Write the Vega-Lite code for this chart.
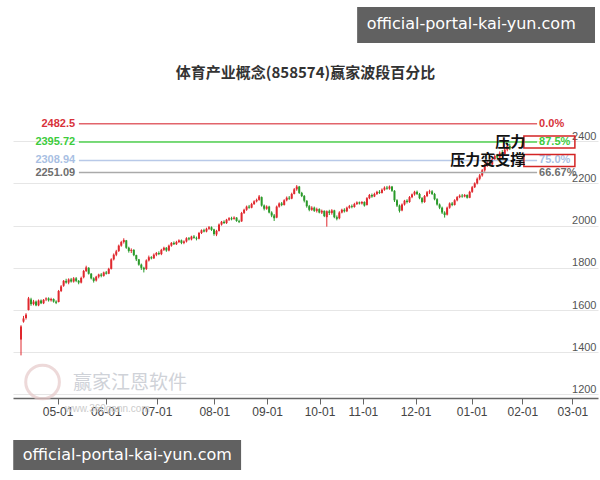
{
"$schema":"https://vega.github.io/schema/vega-lite/v6.json",
"width":585,"height":299,
"autosize":{"type":"none"},
"padding":{"left":13,"top":99,"right":2,"bottom":82},
"background":"white",
"config":{"view":{"stroke":null},"font":"Liberation Sans"},
"title":{"text":"体育产业概念(858574)赢家波段百分比","font":"Noto Sans CJK SC","fontSize":15,"fontWeight":"bold","color":"#333333","anchor":"middle","baseline":"bottom","offset":-89},
"datasets":{
"k":[
{"i":0,"o":1460,"c":1522,"h":1528,"l":1385},{"i":1,"o":1545,"c":1560,"h":1572,"l":1540},{"i":2,"o":1562,"c":1578,"h":1585,"l":1555},{"i":3,"o":1600,"c":1655,"h":1662,"l":1598},{"i":4,"o":1650,"c":1628,"h":1658,"l":1620},{"i":5,"o":1628,"c":1640,"h":1648,"l":1622},{"i":6,"o":1640,"c":1622,"h":1645,"l":1618},{"i":7,"o":1622,"c":1645,"h":1650,"l":1618},{"i":8,"o":1645,"c":1632,"h":1650,"l":1628},{"i":9,"o":1632,"c":1648,"h":1652,"l":1628},
{"i":10,"o":1650,"c":1655,"h":1660,"l":1642},{"i":11,"o":1655,"c":1646,"h":1660,"l":1640},{"i":12,"o":1646,"c":1652,"h":1658,"l":1640},{"i":13,"o":1652,"c":1640,"h":1655,"l":1635},{"i":14,"o":1640,"c":1634,"h":1646,"l":1628},{"i":15,"o":1638,"c":1690,"h":1695,"l":1636},{"i":16,"o":1690,"c":1712,"h":1718,"l":1685},{"i":17,"o":1715,"c":1738,"h":1742,"l":1710},{"i":18,"o":1738,"c":1730,"h":1748,"l":1725},{"i":19,"o":1730,"c":1745,"h":1750,"l":1722},
{"i":20,"o":1745,"c":1735,"h":1752,"l":1730},{"i":21,"o":1735,"c":1750,"h":1756,"l":1730},{"i":22,"o":1750,"c":1738,"h":1756,"l":1732},{"i":23,"o":1738,"c":1730,"h":1742,"l":1722},{"i":24,"o":1730,"c":1752,"h":1758,"l":1726},{"i":25,"o":1755,"c":1785,"h":1790,"l":1750},{"i":26,"o":1785,"c":1802,"h":1810,"l":1780},{"i":27,"o":1800,"c":1772,"h":1803,"l":1768},{"i":28,"o":1772,"c":1750,"h":1775,"l":1745},{"i":29,"o":1750,"c":1738,"h":1755,"l":1730},
{"i":30,"o":1740,"c":1758,"h":1762,"l":1735},{"i":31,"o":1758,"c":1768,"h":1772,"l":1750},{"i":32,"o":1768,"c":1762,"h":1775,"l":1755},{"i":33,"o":1762,"c":1778,"h":1782,"l":1758},{"i":34,"o":1778,"c":1772,"h":1785,"l":1768},{"i":35,"o":1772,"c":1795,"h":1800,"l":1770},{"i":36,"o":1795,"c":1840,"h":1845,"l":1792},{"i":37,"o":1840,"c":1862,"h":1868,"l":1835},{"i":38,"o":1862,"c":1878,"h":1885,"l":1855},{"i":39,"o":1880,"c":1905,"h":1910,"l":1875},
{"i":40,"o":1905,"c":1922,"h":1928,"l":1900},{"i":41,"o":1922,"c":1932,"h":1940,"l":1915},{"i":42,"o":1930,"c":1895,"h":1932,"l":1890},{"i":43,"o":1895,"c":1880,"h":1900,"l":1872},{"i":44,"o":1880,"c":1885,"h":1892,"l":1870},{"i":45,"o":1885,"c":1860,"h":1888,"l":1855},{"i":46,"o":1860,"c":1840,"h":1862,"l":1832},{"i":47,"o":1840,"c":1815,"h":1842,"l":1810},{"i":48,"o":1815,"c":1800,"h":1820,"l":1790},{"i":49,"o":1800,"c":1792,"h":1805,"l":1778},
{"i":50,"o":1795,"c":1835,"h":1840,"l":1790},{"i":51,"o":1835,"c":1850,"h":1858,"l":1830},{"i":52,"o":1850,"c":1845,"h":1855,"l":1840},{"i":53,"o":1845,"c":1862,"h":1868,"l":1842},{"i":54,"o":1862,"c":1870,"h":1875,"l":1855},{"i":55,"o":1870,"c":1865,"h":1878,"l":1860},{"i":56,"o":1865,"c":1885,"h":1890,"l":1860},{"i":57,"o":1885,"c":1895,"h":1900,"l":1880},{"i":58,"o":1895,"c":1882,"h":1898,"l":1876},{"i":59,"o":1882,"c":1905,"h":1910,"l":1878},
{"i":60,"o":1905,"c":1918,"h":1922,"l":1900},{"i":61,"o":1918,"c":1912,"h":1925,"l":1908},{"i":62,"o":1912,"c":1922,"h":1928,"l":1908},{"i":63,"o":1922,"c":1930,"h":1935,"l":1918},{"i":64,"o":1930,"c":1918,"h":1934,"l":1912},{"i":65,"o":1918,"c":1925,"h":1930,"l":1912},{"i":66,"o":1925,"c":1940,"h":1945,"l":1920},{"i":67,"o":1940,"c":1935,"h":1946,"l":1930},{"i":68,"o":1935,"c":1948,"h":1952,"l":1930},{"i":69,"o":1948,"c":1942,"h":1955,"l":1938},
{"i":70,"o":1942,"c":1938,"h":1948,"l":1930},{"i":71,"o":1938,"c":1965,"h":1970,"l":1935},{"i":72,"o":1965,"c":1978,"h":1982,"l":1960},{"i":73,"o":1978,"c":1972,"h":1985,"l":1968},{"i":74,"o":1972,"c":1985,"h":1990,"l":1968},{"i":75,"o":1985,"c":1992,"h":1998,"l":1980},{"i":76,"o":1992,"c":1980,"h":1996,"l":1975},{"i":77,"o":1982,"c":1960,"h":1985,"l":1952},{"i":78,"o":1958,"c":1975,"h":1980,"l":1950},{"i":79,"o":1975,"c":2005,"h":2010,"l":1972},
{"i":80,"o":2005,"c":2018,"h":2022,"l":2000},{"i":81,"o":2018,"c":2012,"h":2025,"l":2008},{"i":82,"o":2012,"c":2028,"h":2032,"l":2008},{"i":83,"o":2028,"c":2035,"h":2040,"l":2022},{"i":84,"o":2035,"c":2030,"h":2042,"l":2025},{"i":85,"o":2032,"c":2038,"h":2044,"l":2028},{"i":86,"o":2038,"c":2022,"h":2040,"l":2018},{"i":87,"o":2022,"c":2018,"h":2028,"l":2012},{"i":88,"o":2020,"c":2060,"h":2065,"l":2018},{"i":89,"o":2060,"c":2075,"h":2080,"l":2055},
{"i":90,"o":2075,"c":2090,"h":2095,"l":2070},{"i":91,"o":2090,"c":2085,"h":2098,"l":2080},{"i":92,"o":2085,"c":2102,"h":2108,"l":2082},{"i":93,"o":2102,"c":2115,"h":2120,"l":2098},{"i":94,"o":2115,"c":2122,"h":2128,"l":2110},{"i":95,"o":2122,"c":2138,"h":2145,"l":2118},{"i":96,"o":2135,"c":2095,"h":2138,"l":2090},{"i":97,"o":2095,"c":2080,"h":2100,"l":2072},{"i":98,"o":2080,"c":2090,"h":2096,"l":2075},{"i":99,"o":2090,"c":2062,"h":2094,"l":2058},
{"i":100,"o":2062,"c":2048,"h":2068,"l":2040},{"i":101,"o":2048,"c":2035,"h":2055,"l":2022},{"i":102,"o":2038,"c":2090,"h":2095,"l":2035},{"i":103,"o":2090,"c":2105,"h":2110,"l":2085},{"i":104,"o":2105,"c":2098,"h":2112,"l":2092},{"i":105,"o":2098,"c":2120,"h":2125,"l":2095},{"i":106,"o":2120,"c":2132,"h":2138,"l":2115},{"i":107,"o":2132,"c":2128,"h":2140,"l":2122},{"i":108,"o":2128,"c":2150,"h":2156,"l":2125},{"i":109,"o":2150,"c":2172,"h":2178,"l":2148},
{"i":110,"o":2172,"c":2185,"h":2192,"l":2165},{"i":111,"o":2185,"c":2155,"h":2188,"l":2150},{"i":112,"o":2155,"c":2140,"h":2160,"l":2135},{"i":113,"o":2140,"c":2118,"h":2145,"l":2110},{"i":114,"o":2118,"c":2092,"h":2120,"l":2085},{"i":115,"o":2092,"c":2075,"h":2098,"l":2068},{"i":116,"o":2075,"c":2085,"h":2092,"l":2070},{"i":117,"o":2085,"c":2070,"h":2090,"l":2065},{"i":118,"o":2070,"c":2078,"h":2085,"l":2062},{"i":119,"o":2078,"c":2062,"h":2082,"l":2058},
{"i":120,"o":2062,"c":2070,"h":2076,"l":2055},{"i":121,"o":2070,"c":2045,"h":2072,"l":2040},{"i":122,"o":2040,"c":2068,"h":2072,"l":1995},{"i":123,"o":2068,"c":2060,"h":2075,"l":2050},{"i":124,"o":2060,"c":2072,"h":2078,"l":2052},{"i":125,"o":2072,"c":2040,"h":2075,"l":2035},{"i":126,"o":2040,"c":2032,"h":2048,"l":2025},{"i":127,"o":2035,"c":2062,"h":2068,"l":2030},{"i":128,"o":2062,"c":2075,"h":2080,"l":2058},{"i":129,"o":2075,"c":2068,"h":2082,"l":2062},
{"i":130,"o":2068,"c":2085,"h":2090,"l":2064},{"i":131,"o":2085,"c":2092,"h":2098,"l":2080},{"i":132,"o":2092,"c":2088,"h":2100,"l":2082},{"i":133,"o":2088,"c":2102,"h":2108,"l":2085},{"i":134,"o":2102,"c":2110,"h":2115,"l":2098},{"i":135,"o":2110,"c":2105,"h":2114,"l":2100},{"i":136,"o":2105,"c":2112,"h":2116,"l":2100},{"i":137,"o":2112,"c":2095,"h":2115,"l":2090},{"i":138,"o":2098,"c":2130,"h":2135,"l":2095},{"i":139,"o":2130,"c":2145,"h":2150,"l":2125},
{"i":140,"o":2145,"c":2138,"h":2152,"l":2132},{"i":141,"o":2138,"c":2150,"h":2156,"l":2135},{"i":142,"o":2150,"c":2160,"h":2165,"l":2145},{"i":143,"o":2160,"c":2155,"h":2168,"l":2150},{"i":144,"o":2155,"c":2170,"h":2176,"l":2152},{"i":145,"o":2170,"c":2180,"h":2186,"l":2165},{"i":146,"o":2180,"c":2175,"h":2188,"l":2170},{"i":147,"o":2175,"c":2185,"h":2190,"l":2170},{"i":148,"o":2185,"c":2165,"h":2188,"l":2160},{"i":149,"o":2165,"c":2120,"h":2168,"l":2112},
{"i":150,"o":2120,"c":2095,"h":2125,"l":2088},{"i":151,"o":2095,"c":2070,"h":2100,"l":2062},{"i":152,"o":2072,"c":2100,"h":2105,"l":2068},{"i":153,"o":2100,"c":2118,"h":2122,"l":2095},{"i":154,"o":2118,"c":2112,"h":2125,"l":2105},{"i":155,"o":2112,"c":2135,"h":2140,"l":2108},{"i":156,"o":2135,"c":2148,"h":2152,"l":2130},{"i":157,"o":2148,"c":2160,"h":2165,"l":2142},{"i":158,"o":2160,"c":2150,"h":2166,"l":2145},{"i":159,"o":2150,"c":2130,"h":2155,"l":2125},
{"i":160,"o":2130,"c":2112,"h":2135,"l":2105},{"i":161,"o":2112,"c":2140,"h":2145,"l":2108},{"i":162,"o":2140,"c":2158,"h":2164,"l":2135},{"i":163,"o":2158,"c":2162,"h":2170,"l":2150},{"i":164,"o":2162,"c":2150,"h":2168,"l":2145},{"i":165,"o":2150,"c":2125,"h":2155,"l":2120},{"i":166,"o":2125,"c":2100,"h":2130,"l":2095},{"i":167,"o":2100,"c":2085,"h":2105,"l":2078},{"i":168,"o":2085,"c":2062,"h":2090,"l":2055},{"i":169,"o":2062,"c":2050,"h":2068,"l":2038},
{"i":170,"o":2052,"c":2085,"h":2090,"l":2048},{"i":171,"o":2085,"c":2105,"h":2110,"l":2080},{"i":172,"o":2105,"c":2098,"h":2112,"l":2092},{"i":173,"o":2098,"c":2120,"h":2125,"l":2095},{"i":174,"o":2120,"c":2135,"h":2140,"l":2115},{"i":175,"o":2135,"c":2142,"h":2148,"l":2130},{"i":176,"o":2142,"c":2138,"h":2150,"l":2132},{"i":177,"o":2138,"c":2145,"h":2150,"l":2134},{"i":178,"o":2145,"c":2132,"h":2148,"l":2128},{"i":179,"o":2132,"c":2160,"h":2165,"l":2130},
{"i":180,"o":2160,"c":2182,"h":2188,"l":2155},{"i":181,"o":2182,"c":2200,"h":2205,"l":2178},{"i":182,"o":2200,"c":2222,"h":2228,"l":2195},{"i":183,"o":2222,"c":2238,"h":2245,"l":2215},{"i":184,"o":2238,"c":2262,"h":2268,"l":2232},{"i":185,"o":2262,"c":2285,"h":2292,"l":2255},{"i":186,"o":2285,"c":2298,"h":2305,"l":2278},{"i":187,"o":2298,"c":2290,"h":2310,"l":2282},{"i":188,"o":2290,"c":2315,"h":2320,"l":2285},{"i":189,"o":2315,"c":2330,"h":2338,"l":2308},
{"i":190,"o":2330,"c":2322,"h":2340,"l":2315},{"i":191,"o":2322,"c":2345,"h":2352,"l":2318},{"i":192,"o":2345,"c":2338,"h":2358,"l":2330},{"i":193,"o":2338,"c":2360,"h":2368,"l":2332},{"i":194,"o":2360,"c":2378,"h":2392,"l":2352},{"i":195,"o":2378,"c":2365,"h":2388,"l":2358}
],
"lv":[
{"v":2482.5,"val":"2482.5","pct":"0.0%","note":""},
{"v":2395.72,"val":"2395.72","pct":"87.5%","note":"压力"},
{"v":2308.94,"val":"2308.94","pct":"75.0%","note":"压力变支撑"},
{"v":2251.09,"val":"2251.09","pct":"66.67%","note":""}
]
},
"layer":[
{"data":{"name":"k"},"mark":{"type":"rule","strokeWidth":1},
 "encoding":{
  "x":{"field":"i","type":"quantitative","scale":{"domain":[-1.2,228.2],"nice":false,"zero":false},
   "axis":{"values":[14.6,33.8,54.1,77.1,98.2,119.1,136.4,157.4,179.8,200,220],
    "labelExpr":"['05-01','06-01','07-01','08-01','09-01','10-01','11-01','12-01','01-01','02-01','03-01'][indexof([14.6,33.8,54.1,77.1,98.2,119.1,136.4,157.4,179.8,200,220], datum.value)]",
    "title":null,"grid":false,"domainColor":"#666666","domainWidth":1.5,"tickColor":"#666666","tickSize":6,"labelFontSize":12,"labelColor":"#444444","labelPadding":2,"labelFlush":false,"labelOverlap":false,"labelFont":"Liberation Sans"}},
  "y":{"field":"l","type":"quantitative","scale":{"domain":[1183,2600],"nice":false,"zero":false},
   "axis":{"orient":"right","values":[1200,1400,1600,1800,2000,2200,2400],"format":"d","title":null,"domain":false,"ticks":false,"tickSize":0,"labelAlign":"right","labelBaseline":"bottom","labelPadding":-2,"labelFontSize":11,"labelColor":"#555555","gridColor":"#e6e6e6","grid":true,"labelFont":"Liberation Sans"}},
  "y2":{"field":"h"},
  "color":{"condition":{"test":"datum.c >= datum.o","value":"#e0282e"},"value":"#2a9a2a"}
 }},
{"data":{"name":"k"},"mark":{"type":"bar","size":2},
 "encoding":{
  "x":{"field":"i","type":"quantitative","scale":{"domain":[-1.2,228.2],"nice":false,"zero":false},"axis":{"title":null}},
  "y":{"field":"o","type":"quantitative","scale":{"domain":[1183,2600],"nice":false,"zero":false},"axis":{"title":null}},
  "y2":{"field":"c"},
  "color":{"condition":{"test":"datum.c >= datum.o","value":"#e0282e"},"value":"#2a9a2a"}
 }},
{"data":{"name":"lv"},"mark":{"type":"rule","strokeWidth":1.5},
 "encoding":{
  "x":{"datum":23.1,"type":"quantitative","scale":{"domain":[-1.2,228.2],"nice":false,"zero":false},"axis":{"title":null}},
  "x2":{"datum":205.9},
  "y":{"field":"v","type":"quantitative","scale":{"domain":[1183,2600],"nice":false,"zero":false},"axis":{"title":null}},
  "stroke":{"field":"pct","type":"nominal","scale":{"domain":["0.0%","87.5%","75.0%","66.67%"],"range":["#e2646b","#4fd04f","#b8c9e8","#aaaaaa"]},"legend":null}
 }},
{"data":{"name":"lv"},"mark":{"type":"text","align":"right","baseline":"middle","fontSize":11,"fontWeight":"bold","font":"Liberation Sans"},
 "encoding":{
  "x":{"datum":21.6,"type":"quantitative","scale":{"domain":[-1.2,228.2],"nice":false,"zero":false},"axis":{"title":null}},
  "y":{"field":"v","type":"quantitative","scale":{"domain":[1183,2600],"nice":false,"zero":false},"axis":{"title":null}},
  "text":{"field":"val"},
  "fill":{"field":"pct","type":"nominal","scale":{"domain":["0.0%","87.5%","75.0%","66.67%"],"range":["#d8323a","#3ccc3c","#a9bfe3","#6e6e6e"]},"legend":null}
 }},
{"data":{"name":"lv"},"mark":{"type":"text","align":"left","baseline":"middle","fontSize":11,"fontWeight":"bold","font":"Liberation Sans"},
 "encoding":{
  "x":{"datum":206.7,"type":"quantitative","scale":{"domain":[-1.2,228.2],"nice":false,"zero":false},"axis":{"title":null}},
  "y":{"field":"v","type":"quantitative","scale":{"domain":[1183,2600],"nice":false,"zero":false},"axis":{"title":null}},
  "text":{"field":"pct"},
  "fill":{"field":"pct","type":"nominal","legend":null}
 }},
{"data":{"name":"lv"},"transform":[{"filter":"datum.note != ''"}],
 "mark":{"type":"point","shape":"M-1,-0.235H1V0.235H-1Z","size":2601,"filled":false,"stroke":"#d42424","strokeWidth":1.5,"opacity":1,"clip":false},
 "encoding":{
  "x":{"datum":210.8,"type":"quantitative","scale":{"domain":[-1.2,228.2],"nice":false,"zero":false},"axis":{"title":null}},
  "y":{"field":"v","type":"quantitative","scale":{"domain":[1183,2600],"nice":false,"zero":false},"axis":{"title":null}}
 }},
{"data":{"name":"lv"},"transform":[{"filter":"datum.note != ''"}],
 "mark":{"type":"text","align":"right","baseline":"middle","fontSize":15,"fontWeight":"bold","font":"Noto Sans CJK SC","color":"#111111"},
 "encoding":{
  "x":{"datum":201.2,"type":"quantitative","scale":{"domain":[-1.2,228.2],"nice":false,"zero":false},"axis":{"title":null}},
  "y":{"field":"v","type":"quantitative","scale":{"domain":[1183,2600],"nice":false,"zero":false},"axis":{"title":null}},
  "text":{"field":"note"}
 }},
{"data":{"values":[{"t":"赢家江恩软件"}]},
 "mark":{"type":"text","align":"center","baseline":"middle","fontSize":19,"font":"Noto Sans CJK SC","color":"#cfd2d8","clip":false},
 "encoding":{
  "x":{"datum":43.5,"type":"quantitative","scale":{"domain":[-1.2,228.2],"nice":false,"zero":false},"axis":{"title":null}},
  "y":{"datum":1254,"type":"quantitative","scale":{"domain":[1183,2600],"nice":false,"zero":false},"axis":{"title":null}},
  "text":{"field":"t"}
 }},
{"data":{"values":[{"t":"www.360gann.com"}]},
 "mark":{"type":"text","align":"center","baseline":"middle","fontSize":10,"font":"Liberation Sans","color":"#cccccc","clip":false},
 "encoding":{
  "x":{"datum":34.5,"type":"quantitative","scale":{"domain":[-1.2,228.2],"nice":false,"zero":false},"axis":{"title":null}},
  "y":{"datum":1131,"type":"quantitative","scale":{"domain":[1183,2600],"nice":false,"zero":false},"axis":{"title":null}},
  "text":{"field":"t"}
 }},
{"data":{"values":[{"t":"logo"}]},
 "mark":{"type":"point","shape":"circle","size":1134,"filled":false,"stroke":"#e6c9c9","strokeWidth":3,"opacity":0.7,"clip":false},
 "encoding":{
  "x":{"datum":8.6,"type":"quantitative","scale":{"domain":[-1.2,228.2],"nice":false,"zero":false},"axis":{"title":null}},
  "y":{"datum":1259,"type":"quantitative","scale":{"domain":[1183,2600],"nice":false,"zero":false},"axis":{"title":null}}
 }},
{"data":{"values":[{"t":"official-portal-kai-yun.com","x1":134.1,"x2":229.0,"y1":3036,"y2":2865,"tx":179.6,"ty":2955},{"t":"official-portal-kai-yun.com","x1":-3.1,"x2":87.8,"y1":984,"y2":842,"tx":42.4,"ty":913}]},
 "layer":[
  {"mark":{"type":"rect","color":"#595959","opacity":0.95,"clip":false},
   "encoding":{
    "x":{"field":"x1","type":"quantitative","scale":{"domain":[-1.2,228.2],"nice":false,"zero":false},"axis":{"title":null}},
    "x2":{"field":"x2"},
    "y":{"field":"y1","type":"quantitative","scale":{"domain":[1183,2600],"nice":false,"zero":false},"axis":{"title":null}},
    "y2":{"field":"y2"}
   }},
  {"mark":{"type":"text","align":"center","baseline":"middle","fontSize":16,"font":"DejaVu Sans","color":"#ffffff","clip":false},
   "encoding":{
    "x":{"field":"tx","type":"quantitative","scale":{"domain":[-1.2,228.2],"nice":false,"zero":false},"axis":{"title":null}},
    "y":{"field":"ty","type":"quantitative","scale":{"domain":[1183,2600],"nice":false,"zero":false},"axis":{"title":null}},
    "text":{"field":"t"}
   }}
 ]}
]
}
